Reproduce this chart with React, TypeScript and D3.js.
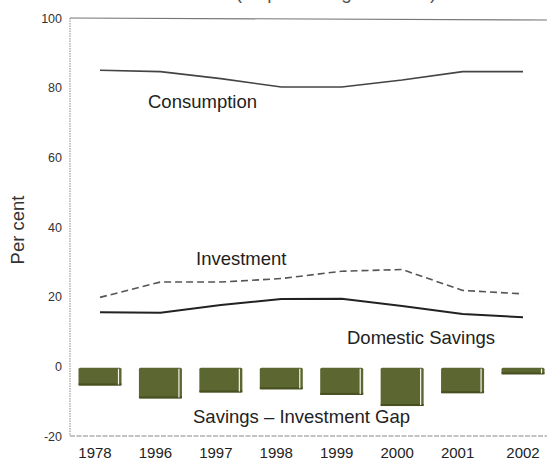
import React from "react";
import * as d3 from "d3";

const years = ["1978", "1996", "1997", "1998", "1999", "2000", "2001", "2002"];
const consumption = [85, 84.6, 82.6, 80.2, 80.2, 82.2, 84.6, 84.6];
const investment = [19.8, 24.2, 24.2, 25.2, 27.3, 27.8, 21.8, 20.8];
const savings = [15.5, 15.4, 17.6, 19.3, 19.4, 17.3, 15.0, 14.1];
const gap = [-5.5, -9.2, -7.5, -6.6, -8.2, -11.4, -7.7, -2.3];
const yTicks = [100, 80, 60, 40, 20, 0, -20];

const W = 547;
const H = 464;

export default function App() {
  const x = d3.scalePoint<number>().domain(d3.range(years.length)).range([100, 523]);
  const y = d3.scaleLinear().domain([-20, 100]).range([436, 18]);
  const line = d3
    .line<number>()
    .x((_, i) => x(i) as number)
    .y((d) => y(d))
    .curve(d3.curveLinear);
  const barW = 43;
  const barTop = y(-0.4);
  const font = "Liberation Sans, Arial, Helvetica, sans-serif";

  return (
    <svg
      width={W}
      height={H}
      style={{ position: "absolute", left: 0, top: 0, background: "#fff" }}
      fontFamily={font}
    >
      <rect x={0} y={0} width={W} height={H} fill="#fff" />
      {/* cut-off title */}
      <text x={336} y={-1} textAnchor="middle" fontSize={19} fill="#555">
        (as percentage of GDP)
      </text>
      {/* frame */}
      <line x1={70} x2={W} y1={y(100)} y2={y(100) + 2} stroke="#777" strokeWidth={1.2} />
      <line x1={70} x2={W} y1={y(-20)} y2={y(-20)} stroke="#888" strokeWidth={1.2} strokeDasharray="5,1.5" />
      <line x1={70} x2={70} y1={y(100)} y2={y(-20)} stroke="#888" strokeWidth={1} strokeDasharray="1.5,1" />
      {/* y ticks */}
      {yTicks.map((t) => (
        <text key={t} x={62} y={y(t) + 4.5} textAnchor="end" fontSize={12.5} fill="#333">
          {t}
        </text>
      ))}
      <text
        transform={`translate(24,${230}) rotate(-90)`}
        textAnchor="middle"
        fontSize={18.5}
        fill="#333"
      >
        Per cent
      </text>
      {/* bars */}
      {gap.map((g, i) => {
        const cx = x(i) as number;
        const x0 = cx - barW / 2;
        const h = y(g) - barTop;
        return (
          <g key={years[i]}>
            <rect x={x0} y={barTop} width={barW} height={h} fill="#5b6630" rx={1.5} />
            <rect x={x0} y={barTop + h - 2} width={barW} height={2} fill="#485020" />
            <line
              x1={x0 + barW - 3}
              x2={x0 + barW - 3}
              y1={barTop + 1}
              y2={barTop + h - 1}
              stroke="#f4f4ec"
              strokeWidth={1.2}
            />
          </g>
        );
      })}
      {/* lines */}
      <path d={line(consumption) ?? ""} fill="none" stroke="#444" strokeWidth={1.6} />
      <path
        d={line(investment) ?? ""}
        fill="none"
        stroke="#555"
        strokeWidth={1.6}
        strokeDasharray="7,4"
      />
      <path d={line(savings) ?? ""} fill="none" stroke="#222" strokeWidth={2} />
      {/* series labels */}
      <text x={148} y={108} fontSize={18.5} fill="#222">
        Consumption
      </text>
      <text x={196} y={265} fontSize={18.5} fill="#222">
        Investment
      </text>
      <text x={347} y={344} fontSize={18.5} fill="#222">
        Domestic Savings
      </text>
      <text x={193} y={423} fontSize={18.5} fill="#222">
        Savings – Investment Gap
      </text>
      {/* x labels */}
      {years.map((yr, i) => (
        <text
          key={yr}
          x={(x(i) as number) - (i === years.length - 1 ? 0 : 5)}
          y={458}
          textAnchor="middle"
          fontSize={15}
          fill="#222"
        >
          {yr}
        </text>
      ))}
    </svg>
  );
}
